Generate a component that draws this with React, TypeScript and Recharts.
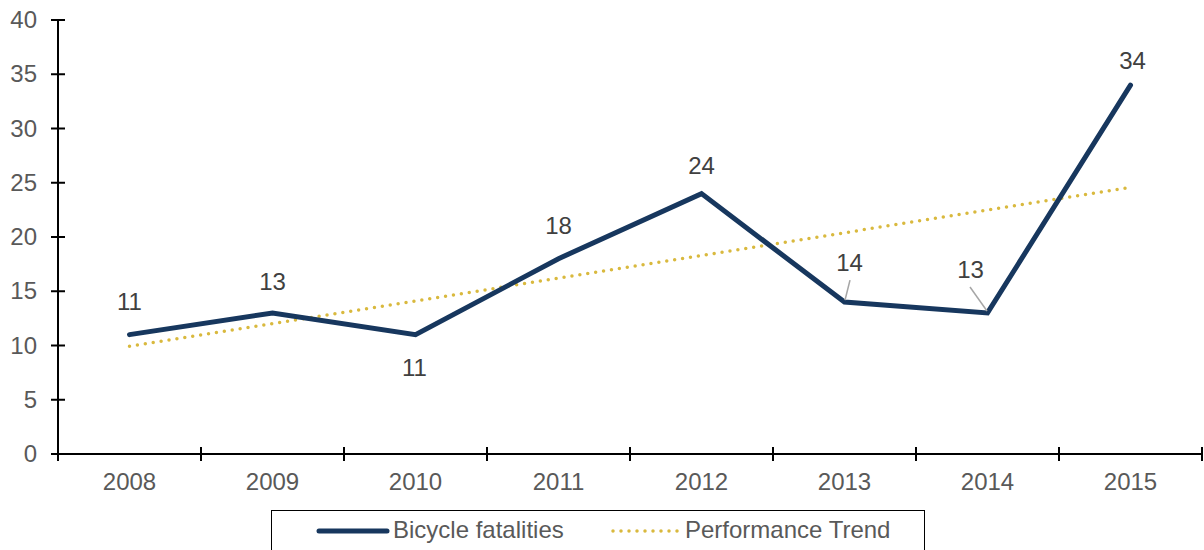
import React from 'react';
import { LineChart, Line, XAxis, YAxis, Legend, LabelList } from 'recharts';

const years = ['2008', '2009', '2010', '2011', '2012', '2013', '2014', '2015'];
const fatalities = [11, 13, 11, 18, 24, 14, 13, 34];
const trend = [9.92, 12.01, 14.11, 16.2, 18.3, 20.39, 22.49, 24.58];
const yTicks = [0, 5, 10, 15, 20, 25, 30, 35, 40];

const data = years.map((year, i) => ({ year, fatalities: fatalities[i], trend: trend[i] }));

// label placement relative to each point: [dx, dy, leader line?]
const labelPos: [number, number, boolean][] = [
  [0, -33, false],
  [0, -31, false],
  [-1, 33, false],
  [0, -33, false],
  [0, -28, false],
  [5, -39, true],
  [-17, -43, true],
  [2, -24, false],
];

const W = 1204;
const H = 550;
const LEFT = 58;
const RIGHT = 2;
const BAND = (W - LEFT - RIGHT) / years.length;
const FONT = '"Liberation Sans", Arial, sans-serif';
const FS = 24;
const NAVY = '#17375E';
const GOLD = '#D9B93E';

function YTick(props: any) {
  const { x, y, payload } = props;
  const ax = x + 7;
  return (
    <g>
      <line x1={ax - 7} x2={ax + 7} y1={y} y2={y} stroke="#000" strokeWidth={2} />
      <text x={ax - 21} y={y + 8} textAnchor="end" fill="#595959" fontSize={FS} fontFamily={FONT}>
        {payload.value}
      </text>
    </g>
  );
}

function XTick(props: any) {
  const { x, y, payload, index } = props;
  const ay = y - 7;
  const left = x - BAND / 2;
  return (
    <g>
      <line x1={left} x2={left} y1={ay - 7} y2={ay + 7} stroke="#000" strokeWidth={2} />
      {index === years.length - 1 && (
        <line x1={x + BAND / 2} x2={x + BAND / 2} y1={ay - 7} y2={ay + 7} stroke="#000" strokeWidth={2} />
      )}
      <text x={x} y={ay + 36} textAnchor="middle" fill="#595959" fontSize={FS} fontFamily={FONT}>
        {payload.value}
      </text>
    </g>
  );
}

function PointLabel(props: any) {
  const { x, y, value, index } = props;
  const [dx, dy, leader] = labelPos[index];
  return (
    <g>
      {leader && index === 5 && (
        <line x1={x + 5.5} y1={y - 22} x2={x + 0.5} y2={y - 2} stroke="#A6A6A6" strokeWidth={1.5} />
      )}
      {leader && index === 6 && (
        <line x1={x - 17.5} y1={y - 26} x2={x - 0.5} y2={y - 2} stroke="#A6A6A6" strokeWidth={1.5} />
      )}
      <text x={x + dx} y={y + dy + 8} textAnchor="middle" fill="#404040" fontSize={FS} fontFamily={FONT}>
        {value}
      </text>
    </g>
  );
}

function LegendBox() {
  return (
    <div
      style={{
        position: 'relative',
        width: 654,
        height: 46,
        boxSizing: 'border-box',
        border: '1.5px solid #000',
        borderBottom: 'none',
        fontFamily: FONT,
        fontSize: FS,
        color: '#595959',
      }}
    >
      <svg width={654} height={46} style={{ position: 'absolute', left: -1.5, top: -1.5 }}>
        <line x1={48} x2={116} y1={21} y2={21} stroke={NAVY} strokeWidth={5} strokeLinecap="round" />
        <line x1={342} x2={408} y1={21} y2={21} stroke={GOLD} strokeWidth={3.5} strokeLinecap="round" strokeDasharray="0 8" />
      </svg>
      <span style={{ position: 'absolute', left: 121, top: 5, lineHeight: '28px', whiteSpace: 'nowrap' }}>
        Bicycle fatalities
      </span>
      <span style={{ position: 'absolute', left: 413, top: 5, lineHeight: '28px', whiteSpace: 'nowrap' }}>
        Performance Trend
      </span>
    </div>
  );
}

export default function App() {
  return (
    <div style={{ position: 'absolute', left: 0, top: 0, width: W, height: H, overflow: 'hidden', background: '#fff' }}>
      <LineChart width={W} height={H} data={data} margin={{ top: 20, right: RIGHT, left: 0, bottom: 0 }}>
        <XAxis
          dataKey="year"
          height={50}
          padding={{ left: BAND / 2, right: BAND / 2 }}
          axisLine={{ stroke: '#000', strokeWidth: 2 }}
          tickLine={false}
          tickSize={7}
          tickMargin={0}
          tick={<XTick />}
          interval={0}
        />
        <YAxis
          width={LEFT}
          domain={[0, 40]}
          ticks={yTicks}
          axisLine={{ stroke: '#000', strokeWidth: 2 }}
          tickLine={false}
          tickSize={7}
          tickMargin={0}
          tick={<YTick />}
          interval={0}
        />
        <Legend
          verticalAlign="bottom"
          content={<LegendBox />}
          wrapperStyle={{ left: 271, top: 510, width: 654, height: 46 }}
        />
        <Line
          dataKey="trend"
          type="linear"
          stroke={GOLD}
          strokeWidth={3.5}
          strokeDasharray="0 8"
          strokeLinecap="round"
          dot={false}
          activeDot={false}
          isAnimationActive={false}
        />
        <Line
          dataKey="fatalities"
          type="linear"
          stroke={NAVY}
          strokeWidth={5}
          strokeLinecap="round"
          strokeLinejoin="miter"
          dot={false}
          activeDot={false}
          isAnimationActive={false}
        >
          <LabelList dataKey="fatalities" content={<PointLabel />} />
        </Line>
      </LineChart>
    </div>
  );
}
